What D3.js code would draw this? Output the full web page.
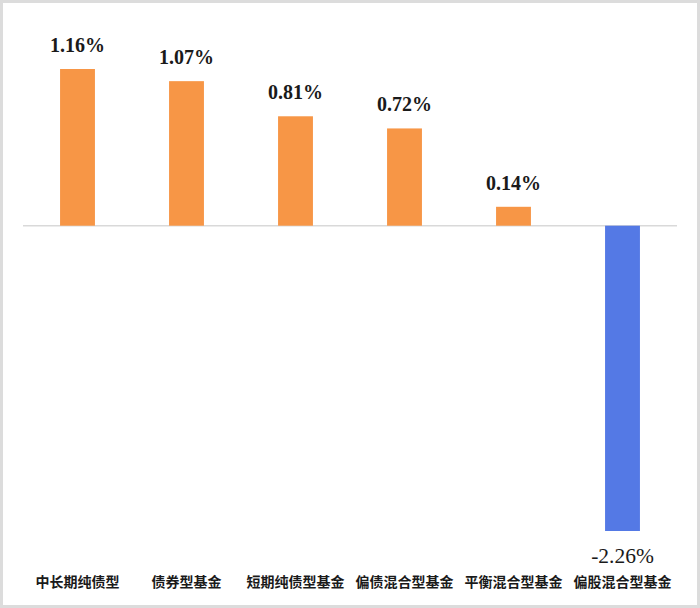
<!DOCTYPE html>
<html><head><meta charset="utf-8">
<script src="https://cdn.jsdelivr.net/npm/d3@7/dist/d3.min.js"></script>
<style>body{margin:0;background:#fff}svg{display:block}</style>
</head><body>
<svg id="c" width="700" height="608"></svg>
<script>
const categories = ["中长期纯债型","债券型基金","短期纯债型基金","偏债混合型基金","平衡混合型基金","偏股混合型基金"];
const values = [1.16, 1.07, 0.81, 0.72, 0.14, -2.26];
const labels = ["1.16%","1.07%","0.81%","0.72%","0.14%","-2.26%"];

const svg = d3.select("#c");
svg.append("rect").attr("x",0).attr("y",0).attr("width",700).attr("height",608).attr("fill","#dcdcdc");
svg.append("rect").attr("x",3).attr("y",3).attr("width",694).attr("height",602).attr("fill","#fff");

const x = d3.scaleBand().domain(categories).range([23, 677]).paddingInner(0.68).paddingOuter(0.34);
const y = d3.scaleLinear().domain([-2.26, 1.16]).range([531, 69]);

svg.append("line").attr("x1",23).attr("x2",677).attr("y1",y(0)).attr("y2",y(0))
  .attr("stroke","#d9d9d9").attr("stroke-width",1.5);

svg.selectAll("rect.bar").data(values).join("rect").attr("class","bar")
  .attr("x",(d,i)=>x(categories[i]))
  .attr("width",x.bandwidth())
  .attr("y",d=>y(Math.max(0,d)))
  .attr("height",d=>Math.abs(y(d)-y(0)))
  .attr("fill",d=>d>=0?"#F79646":"#5479E5");

svg.selectAll("text.val").data(values).join("text").attr("class","val")
  .attr("x",(d,i)=>x(categories[i])+x.bandwidth()/2)
  .attr("y",d=>d>=0?y(d)-17:y(d)+32)
  .attr("text-anchor","middle")
  .attr("font-family","'Liberation Serif','Times New Roman',serif")
  .attr("font-size",d=>d>=0?20:21.5)
  .attr("font-weight",d=>d>=0?"bold":"normal")
  .attr("fill","#1a1a1a")
  .text((d,i)=>labels[i]);

svg.selectAll("text.cat").data(categories).join("text").attr("class","cat")
  .attr("x",d=>x(d)+x.bandwidth()/2)
  .attr("y",587)
  .attr("text-anchor","middle")
  .attr("font-family","'Noto Sans CJK SC',sans-serif")
  .attr("font-size",14)
  .attr("font-weight","bold")
  .attr("fill","#1a1a1a")
  .text(d=>d);
</script>
</body></html>
